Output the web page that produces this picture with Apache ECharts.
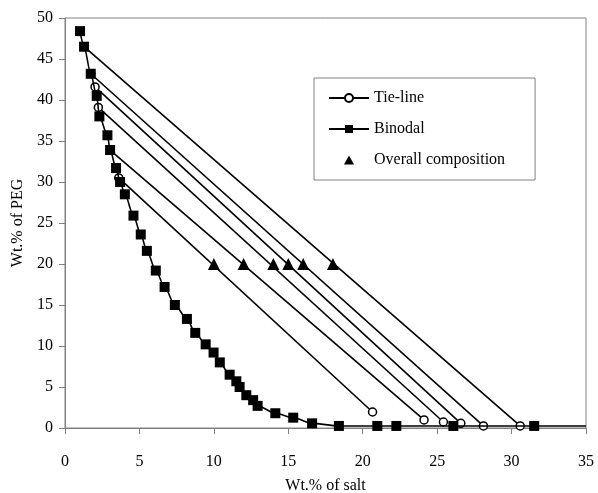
<!DOCTYPE html>
<html>
<head>
<meta charset="utf-8">
<script src="https://cdn.jsdelivr.net/npm/echarts@6/dist/echarts.min.js"></script>
<style>
  html, body { margin: 0; padding: 0; background: #fff; }
  #chart { width: 598px; height: 493px; }
</style>
</head>
<body>
<div id="chart"></div>
<script>
// binodal curve points (wt.% salt, wt.% PEG)
let binodal_x = [1.01, 1.28, 1.73, 2.13, 2.31, 2.85, 3.03, 3.43, 3.70, 4.02, 4.60, 5.09, 5.50, 6.10, 6.69, 7.38, 8.19, 8.75, 9.45, 9.98, 10.40, 11.06, 11.51, 11.73, 12.18, 12.64, 12.94, 14.13, 15.33, 16.60, 18.40, 20.98, 22.26, 26.09, 31.52];
let binodal_y = [48.4, 46.5, 43.2, 40.5, 38.0, 35.7, 33.9, 31.7, 30.0, 28.5, 25.9, 23.6, 21.6, 19.2, 17.2, 15.0, 13.3, 11.6, 10.2, 9.2, 8.0, 6.5, 5.7, 5.0, 4.0, 3.4, 2.7, 1.8, 1.26, 0.57, 0.25, 0.25, 0.25, 0.25, 0.25];

// tie-lines: top phase -> bottom phase
let tie_top_x = [1.28, 1.73, 2.02, 2.24, 3.03, 3.61];
let tie_top_y = [46.5, 43.2, 41.6, 39.1, 33.9, 30.5];
let tie_bot_x = [30.58, 28.11, 26.59, 25.42, 24.12, 20.66];
let tie_bot_y = [0.25, 0.25, 0.57, 0.73, 0.98, 1.95];

// overall composition
let overall_x = [10, 12, 14, 15, 16, 18];
let overall_y = [20, 20, 20, 20, 20, 20];

let font = "Liberation Serif";

let binodal_data = binodal_x.map(function (x, i) { return [x, binodal_y[i]]; });
binodal_data.push({ value: [35, 0.25], symbol: "none" }); // 曲线延伸到右边

let series = [];
for (let i = 0; i < tie_top_x.length; i++) {
	series.push({
		name: "Tie-line",
		type: "line",
		data: [[tie_top_x[i], tie_top_y[i]], [tie_bot_x[i], tie_bot_y[i]]],
		symbol: "circle",
		symbolSize: 8,
		itemStyle: { color: "#fff", borderColor: "#000", borderWidth: 1.5 },
		lineStyle: { color: "#000", width: 1.6 },
		z: 2,
	});
}
series.push({
	name: "Binodal",
	type: "line",
	data: binodal_data,
	smooth: 0.3,
	smoothMonotone: "x",
	symbol: "rect",
	symbolSize: 10,
	itemStyle: { color: "#000" },
	lineStyle: { color: "#000", width: 1.6 },
	z: 3,
});
series.push({
	name: "Overall composition",
	type: "scatter",
	data: overall_x.map(function (x, i) { return [x, overall_y[i]]; }),
	symbol: "triangle",
	symbolSize: 12,
	itemStyle: { color: "#000", opacity: 1 },
	z: 4,
});

let chart = echarts.init(document.getElementById("chart"));
let option = {
	animation: false,
	backgroundColor: "#fff",
	textStyle: { fontFamily: font, color: "#000" },
	grid: {
		left: 65,
		right: 12,
		top: 18,
		bottom: 65,
		outerBoundsMode: "none", // 不自动缩小绘图区
		show: true,
		borderColor: "#808080",
		borderWidth: 1,
	},
	legend: {
		orient: "vertical",
		left: 314,
		top: 78,
		padding: [12, 30, 12, 14],
		itemGap: 15,
		itemWidth: 40,
		itemHeight: 10,
		borderColor: "#808080",
		borderWidth: 1,
		textStyle: { fontFamily: font, fontSize: 16, color: "#000" },
		data: [
			"Tie-line",
			"Binodal",
			{
				name: "Overall composition",
				// 三角形图例, 保持比例
				icon: "path://M0,0L0,0M40,12L40,12M14,11.5L26,11.5L20,0.5Z",
			},
		],
	},
	xAxis: {
		type: "value",
		min: 0,
		max: 35,
		interval: 5,
		name: "Wt.% of salt",
		nameLocation: "middle",
		nameGap: 50,
		nameTextStyle: { fontFamily: font, fontSize: 16, color: "#000" },
		axisLine: { lineStyle: { color: "#808080" } },
		axisTick: { length: 6, lineStyle: { color: "#808080" } },
		axisLabel: { fontFamily: font, fontSize: 16, color: "#000", margin: 26 },
		splitLine: { show: false },
	},
	yAxis: {
		type: "value",
		min: 0,
		max: 50,
		interval: 5,
		name: "Wt.% of PEG",
		nameLocation: "middle",
		nameGap: 38,
		nameTextStyle: { fontFamily: font, fontSize: 16, color: "#000" },
		axisLine: { show: true, lineStyle: { color: "#808080" } },
		axisTick: { show: true, length: 6, lineStyle: { color: "#808080" } },
		axisLabel: { fontFamily: font, fontSize: 16, color: "#000", margin: 12 },
		splitLine: { show: false },
	},
	series: series,
};
chart.setOption(option);
</script>
</body>
</html>
